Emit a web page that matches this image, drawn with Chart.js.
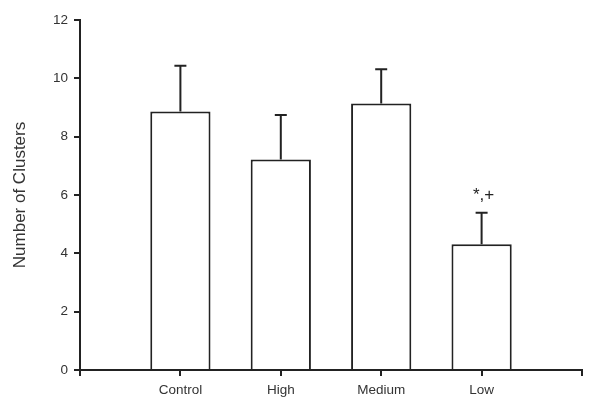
<!DOCTYPE html>
<html>
<head>
<meta charset="utf-8">
<script src="https://cdn.jsdelivr.net/npm/chart.js@4/dist/chart.umd.min.js"></script>
<style>
  html, body { margin: 0; padding: 0; background: #fff; }
  #wrap { width: 600px; height: 411px; }
</style>
</head>
<body>
<div id="wrap"><canvas id="chart"></canvas></div>
<script>
const groups = ["Control", "High", "Medium", "Low"];
const clusters = [8.86, 7.22, 9.14, 4.31];
const errors = [1.57, 1.52, 1.17, 1.08];
const marks = ["", "", "", "*,+"];
const yTicks = [0, 2, 4, 6, 8, 10, 12];

// pad the category axis with an empty slot at each end
const labels = [""].concat(groups, [""]);
const values = [null].concat(clusters, [null]);

const ink = "#222";
const textColor = "#333";
const fontFamily = "'Liberation Sans', Arial, sans-serif";

// error bars (upper only) and significance marks
const errorBars = {
  id: "errorBars",
  afterDatasetsDraw(chart) {
    const ctx = chart.ctx;
    const x = chart.scales.x;
    const y = chart.scales.y;
    ctx.save();
    ctx.strokeStyle = ink;
    ctx.lineWidth = 2;
    groups.forEach((g, i) => {
      const px = x.getPixelForValue(i + 1);
      const top = y.getPixelForValue(clusters[i] + errors[i]);
      const base = y.getPixelForValue(clusters[i]);
      ctx.beginPath();
      ctx.moveTo(px, base);
      ctx.lineTo(px, top);
      ctx.moveTo(px - 6, top);
      ctx.lineTo(px + 6, top);
      ctx.stroke();
      if (marks[i]) {
        ctx.fillStyle = ink;
        ctx.font = "17px " + fontFamily;
        ctx.textAlign = "center";
        ctx.textBaseline = "alphabetic";
        ctx.fillText(marks[i], px + 2, top - 13);
      }
    });
    ctx.restore();
  }
};

new Chart(document.getElementById("chart"), {
  type: "bar",
  data: {
    labels: labels,
    datasets: [{
      data: values,
      backgroundColor: "#fff",
      borderColor: ink,
      borderWidth: 2,
      categoryPercentage: 1,
      barPercentage: 0.6
    }]
  },
  options: {
    responsive: true,
    maintainAspectRatio: false,
    animation: false,
    layout: { padding: { top: 20, right: 18, left: 0, bottom: 0 } },
    plugins: {
      legend: { display: false },
      tooltip: { enabled: false }
    },
    scales: {
      x: {
        offset: false,
        border: { color: ink, width: 2 },
        grid: { offset: false, drawOnChartArea: false, color: ink, lineWidth: 2, tickLength: 6 },
        ticks: {
          color: textColor,
          padding: 6,
          maxRotation: 0,
          autoSkip: false,
          font: { family: fontFamily, size: 13.5 }
        },
        afterFit(scale) { scale.height = 41; }
      },
      y: {
        min: 0,
        max: 12,
        afterBuildTicks(scale) { scale.ticks = yTicks.map(v => ({ value: v })); },
        border: { color: ink, width: 2 },
        grid: { drawOnChartArea: false, color: ink, lineWidth: 2, tickLength: 6 },
        ticks: {
          color: textColor,
          padding: 6,
          font: { family: fontFamily, size: 13.5 }
        },
        title: {
          display: true,
          text: "Number of Clusters",
          color: textColor,
          padding: { top: 10, bottom: 0 },
          font: { family: fontFamily, size: 17 }
        },
        afterFit(scale) { scale.width = 80; }
      }
    }
  },
  plugins: [errorBars]
});
</script>
</body>
</html>
